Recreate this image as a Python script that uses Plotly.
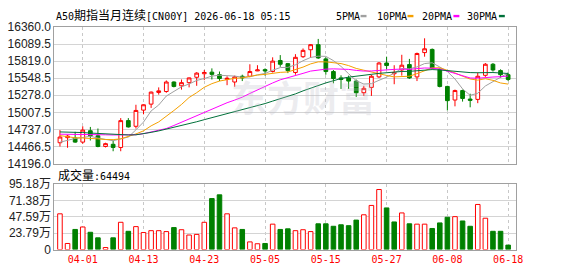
import plotly.graph_objects as go

# ---------------- data ----------------
dates = ["03-27", "03-30", "03-31", "04-01", "04-02", "04-03", "04-06", "04-07", "04-08", "04-09",
         "04-10", "04-13", "04-14", "04-15", "04-16", "04-17", "04-20", "04-21", "04-22", "04-23",
         "04-24", "04-27", "04-28", "04-29", "04-30", "05-01", "05-04", "05-05", "05-06", "05-07",
         "05-08", "05-11", "05-12", "05-13", "05-14", "05-15", "05-18", "05-19", "05-20", "05-21",
         "05-22", "05-25", "05-26", "05-27", "05-28", "05-29", "06-01", "06-02", "06-03", "06-04",
         "06-05", "06-08", "06-09", "06-10", "06-11", "06-12", "06-15", "06-16", "06-17", "06-18"]

opens = [14527, 14607, 14602, 14537, 14717, 14637, 14467, 14502, 14452, 14877,
         14787, 15043, 15138, 15323, 15338, 15488, 15428, 15478, 15563, 15619,
         15644, 15604, 15528, 15488, 15579, 15579, 15664, 15684, 15654, 15829,
         15779, 15639, 15889, 15999, 16079, 15854, 15654, 15553, 15553, 15503,
         15318, 15403, 15569, 15789, 15619, 15679, 15764, 15569, 15954, 16004,
         15689, 15418, 15203, 15353, 15218, 15213, 15594, 15769, 15669, 15604]
highs = [14727, 14650, 14700, 14787, 14777, 14752, 14527, 14562, 14917, 14917,
         15128, 15135, 15338, 15403, 15513, 15498, 15528, 15560, 15644, 15679,
         15704, 15654, 15579, 15589, 15604, 15769, 15754, 15704, 15879, 15914,
         15790, 15929, 16019, 16089, 16170, 15879, 15679, 15594, 15589, 15528,
         15428, 15604, 15804, 15889, 15754, 15919, 15854, 15954, 16180, 16019,
         15704, 15428, 15368, 15368, 15303, 15639, 15789, 15789, 15689, 15639]
lows = [14467, 14447, 14525, 14510, 14562, 14455, 14452, 14392, 14392, 14767,
        14752, 14977, 15078, 15288, 15318, 15403, 15368, 15403, 15428, 15518,
        15528, 15503, 15438, 15413, 15503, 15563, 15660, 15589, 15639, 15729,
        15629, 15604, 15869, 15869, 15854, 15604, 15468, 15378, 15378, 15253,
        15268, 15268, 15553, 15689, 15453, 15589, 15538, 15503, 15889, 15689,
        15403, 15038, 15103, 15178, 15088, 15153, 15569, 15654, 15553, 15503]
closes = [14617, 14632, 14537, 14727, 14637, 14467, 14512, 14452, 14877, 14777,
          15038, 15128, 15328, 15348, 15488, 15418, 15478, 15553, 15629, 15639,
          15609, 15543, 15548, 15569, 15553, 15654, 15679, 15664, 15819, 15769,
          15669, 15879, 15989, 16079, 15869, 15654, 15543, 15528, 15503, 15318,
          15388, 15579, 15789, 15749, 15639, 15754, 15553, 15939, 16014, 15704,
          15418, 15193, 15353, 15228, 15198, 15579, 15769, 15679, 15604, 15528]

volumes = [519000, 88000, 292000, 328000, 251000, 170000, 29000, 170000, 396000, 265000,
           333000, 247000, 274000, 274000, 261000, 319000, 288000, 211000, 220000, 396000,
           741000, 795000, 519000, 315000, 292000, 111000, 84000, 88000, 369000, 292000,
           301000, 274000, 288000, 261000, 374000, 374000, 338000, 360000, 347000, 428000,
           505000, 641000, 872000, 605000, 401000, 532000, 374000, 369000, 369000, 306000,
           387000, 469000, 478000, 415000, 338000, 655000, 455000, 265000, 265000, 64494]

ma5 = [14535, 14570, 14595, 14610, 14630, 14600, 14576, 14559, 14589, 14617,
       14731, 14854, 15030, 15124, 15266, 15342, 15412, 15457, 15513, 15543,
       15582, 15595, 15594, 15582, 15564, 15573, 15601, 15624, 15674, 15717,
       15720, 15760, 15825, 15877, 15897, 15894, 15827, 15735, 15619, 15509,
       15456, 15463, 15515, 15565, 15629, 15702, 15697, 15727, 15780, 15793,
       15726, 15654, 15536, 15379, 15278, 15310, 15425, 15491, 15566, 15632]
ma10 = [14640, 14622, 14605, 14602, 14600, 14588, 14578, 14576, 14588, 14624,
        14666, 14715, 14794, 14856, 14942, 15037, 15133, 15243, 15319, 15405,
        15462, 15503, 15525, 15547, 15554, 15578, 15598, 15609, 15628, 15641,
        15647, 15680, 15724, 15775, 15807, 15807, 15793, 15780, 15748, 15703,
        15675, 15645, 15625, 15592, 15569, 15579, 15580, 15621, 15672, 15711,
        15714, 15675, 15632, 15580, 15535, 15518, 15540, 15514, 15473, 15455]
ma20 = [14662, 14662, 14660, 14658, 14656, 14654, 14652, 14650, 14650, 14650,
        14654, 14670, 14695, 14720, 14752, 14800, 14852, 14906, 14962, 15014,
        15064, 15109, 15160, 15202, 15248, 15307, 15365, 15426, 15473, 15523,
        15554, 15592, 15625, 15661, 15680, 15692, 15696, 15694, 15688, 15672,
        15661, 15663, 15675, 15684, 15688, 15693, 15687, 15700, 15710, 15707,
        15694, 15660, 15628, 15586, 15552, 15548, 15560, 15567, 15572, 15583]
ma30 = [14698, 14697, 14695, 14688, 14680, 14672, 14665, 14658, 14652, 14650,
        14652, 14668, 14691, 14714, 14742, 14768, 14796, 14826, 14859, 14892,
        14924, 14954, 14984, 15015, 15045, 15079, 15113, 15147, 15186, 15223,
        15258, 15300, 15348, 15393, 15434, 15474, 15508, 15544, 15565, 15583,
        15594, 15610, 15625, 15638, 15643, 15655, 15657, 15670, 15683, 15685,
        15679, 15667, 15660, 15649, 15637, 15635, 15638, 15638, 15631, 15623]

date_ticks = ["04-01", "04-13", "04-23", "05-05", "05-15", "05-27", "06-08", "06-18"]
price_ticks = [14196.0, 14466.5, 14737.0, 15007.5, 15278.0, 15548.5, 15819.0, 16089.5, 16360.0]
vol_ticks = [0, 237950, 475900, 713850, 951800]
vol_tick_text = ["0", "23.79万", "47.59万", "71.38万", "95.18万"]
last_volume_text = "64494"
title_code = "A50"
title_name = "期指当月连续"
title_rest = "[CN00Y] 2026-06-18 05:15"

# ---------------- styling ----------------
W, H = 578, 276
RED = "#ff0000"
GREEN = "#008000"
MA_COLORS = ["#a0a0a0", "#f5a000", "#ff00ff", "#00703a"]
MA_NAMES = ["5PMA", "10PMA", "20PMA", "30PMA"]
MONO = "DejaVu Sans Mono, Noto Sans CJK SC"
SANS = "Liberation Sans, Noto Sans CJK SC"

def px_x(x):
    return x / W

def px_y(y):
    return 1 - y / H

x_dom = [px_x(55), px_x(522.3)]
price_dom = [px_y(165), px_y(21)]
vol_dom = [px_y(255.5), px_y(186.5)]
x_range = [-0.74, 60.03]

# volume colour: up vs previous close
vol_up = [closes[0] >= opens[0]] + [closes[i] >= closes[i - 1] for i in range(1, len(closes))]
vol_fill = ["#ffffff" if u else GREEN for u in vol_up]
vol_line = [RED if u else GREEN for u in vol_up]

fig = go.Figure()

fig.add_trace(go.Candlestick(
    x=dates, open=opens, high=highs, low=lows, close=closes,
    increasing=dict(line=dict(color=RED, width=1), fillcolor="#ffffff"),
    decreasing=dict(line=dict(color=GREEN, width=1), fillcolor=GREEN),
    whiskerwidth=0, xaxis="x", yaxis="y", showlegend=False, hoverinfo="skip"))

for vals, col, name in zip([ma5, ma10, ma20, ma30], MA_COLORS, MA_NAMES):
    fig.add_trace(go.Scatter(x=dates, y=vals, mode="lines", name=name,
                             line=dict(color=col, width=1), xaxis="x", yaxis="y",
                             showlegend=False, hoverinfo="skip"))

fig.add_trace(go.Bar(x=dates, y=volumes, xaxis="x2", yaxis="y2",
                     marker=dict(color=vol_fill, line=dict(color=vol_line, width=1)),
                     showlegend=False, hoverinfo="skip"))

grid_x = dict(showgrid=True, gridcolor="#c8c8c8", griddash="3px,3px", gridwidth=1)
border = dict(showline=True, mirror=True, linecolor="#a0a0a0", linewidth=1, zeroline=False)

annotations = [
    dict(text=f'{title_code}<span style="font-size:12px">{title_name}</span>{title_rest}',
         x=px_x(55), y=px_y(8.5), xref="paper", yref="paper", xanchor="left", yanchor="middle",
         showarrow=False, font=dict(family=MONO, size=10, color="#000000")),
    dict(text=f'<span style="font-size:12px">成交量</span>:{last_volume_text}',
         x=px_x(57), y=px_y(177), xref="paper", yref="paper", xanchor="left", yanchor="middle",
         showarrow=False, font=dict(family=MONO, size=10, color="#000000")),
    dict(text="<b>东方财富</b>", x=px_x(307), y=px_y(94), xref="paper", yref="paper",
         xanchor="center", yanchor="middle", showarrow=False,
         font=dict(family="Noto Sans CJK SC", size=36, color="rgba(190,190,200,0.28)")),
]
shapes = []
legend_text_x = [338.5, 379.5, 425.5, 471.0]
legend_swatch_x = [365, 412.5, 459, 505]
for name, col, tx, sx in zip(MA_NAMES, MA_COLORS, legend_text_x, legend_swatch_x):
    annotations.append(dict(text=name, x=px_x(tx), y=px_y(9.5), xref="paper", yref="paper",
                            xanchor="left", yanchor="middle", showarrow=False,
                            font=dict(family=MONO, size=10, color="#000000")))
    shapes.append(dict(type="rect", xref="paper", yref="paper",
                       x0=px_x(sx), x1=px_x(sx + 6), y0=px_y(10.8), y1=px_y(8.3),
                       fillcolor=col, line=dict(width=0)))

fig.update_layout(
    width=W, height=H, margin=dict(l=0, r=0, t=0, b=0),
    paper_bgcolor="#ffffff", plot_bgcolor="#ffffff",
    bargap=0.4, boxgap=0.3, showlegend=False,
    xaxis=dict(domain=x_dom, type="category", range=x_range, anchor="y",
               tickvals=date_ticks, showticklabels=False, ticks="",
               rangeslider=dict(visible=False), **grid_x, **border),
    yaxis=dict(domain=price_dom, range=[price_ticks[0], price_ticks[-1]], anchor="x",
               tickvals=price_ticks, ticktext=[f"{v:.1f}" for v in price_ticks],
               showgrid=True, gridcolor="#d4d4d4", gridwidth=1, ticks="",
               tickfont=dict(family=SANS, size=12, color="#222222"), **border),
    xaxis2=dict(domain=x_dom, type="category", range=x_range, anchor="y2",
                tickvals=date_ticks, ticktext=date_ticks, ticks="",
                tickfont=dict(family=MONO, size=10, color=RED), **grid_x, **border),
    yaxis2=dict(domain=vol_dom, range=[vol_ticks[0], vol_ticks[-1]], anchor="x2",
                tickvals=vol_ticks, ticktext=vol_tick_text,
                showgrid=True, gridcolor="#d4d4d4", gridwidth=1, ticks="",
                tickfont=dict(family=SANS, size=12, color="#222222"), **border),
    annotations=annotations, shapes=shapes,
)

fig.write_html("out.html")
